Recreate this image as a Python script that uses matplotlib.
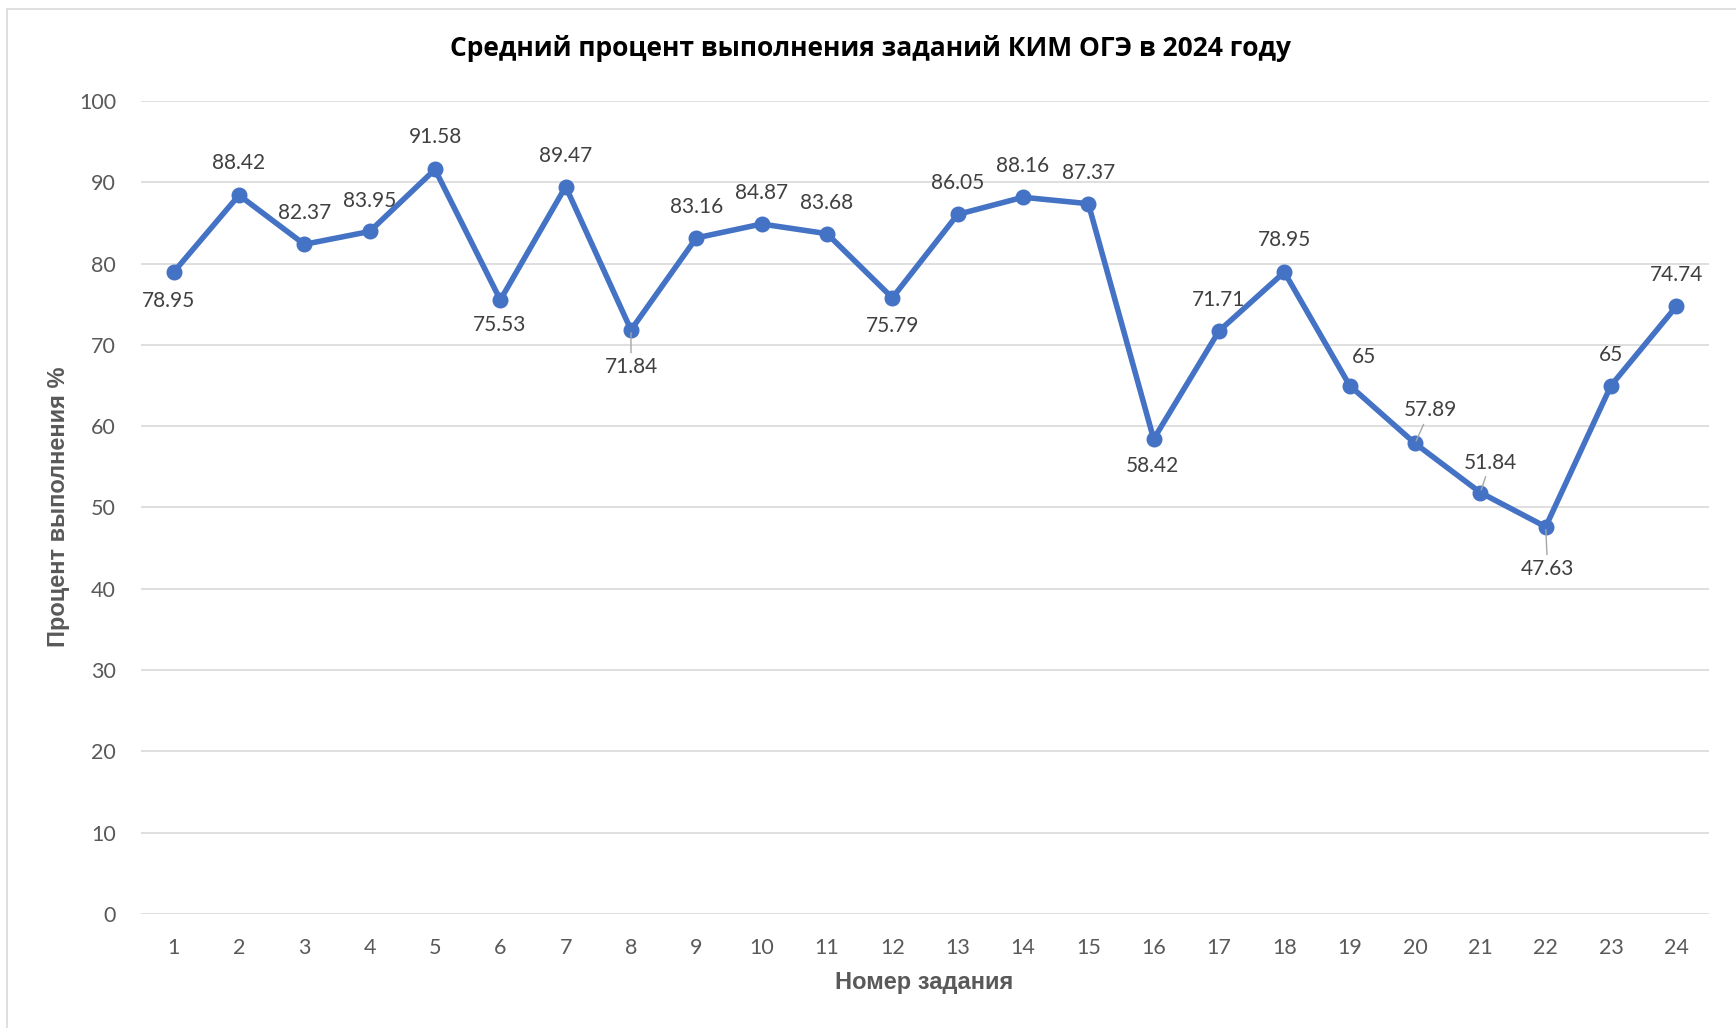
import matplotlib
matplotlib.use("Agg")
import matplotlib.pyplot as plt
from matplotlib.patches import Rectangle

# ---- data ----
tasks = list(range(1, 25))
values = [78.95, 88.42, 82.37, 83.95, 91.58, 75.53, 89.47, 71.84, 83.16, 84.87,
          83.68, 75.79, 86.05, 88.16, 87.37, 58.42, 71.71, 78.95, 65, 57.89,
          51.84, 47.63, 65, 74.74]
value_labels = ["78.95", "88.42", "82.37", "83.95", "91.58", "75.53", "89.47", "71.84",
                "83.16", "84.87", "83.68", "75.79", "86.05", "88.16", "87.37", "58.42",
                "71.71", "78.95", "65", "57.89", "51.84", "47.63", "65", "74.74"]
y_ticks = [0, 10, 20, 30, 40, 50, 60, 70, 80, 90, 100]
title = "Средний процент выполнения заданий КИМ ОГЭ в 2024 году"
xlabel = "Номер задания"
ylabel = "Процент выполнения %"

# label offsets in pixels (style)
label_offsets = [(-5, -29), (0, 32), (0, 31), (0, 30), (0, 32), (-1, -25), (0, 31), (0, -37),
                 (0, 31), (0, 31), (0, 31), (0, -28), (0, 31), (0, 31), (0, 31), (-1, -27),
                 (0, 31), (0, 32), (14, 29), (15, 33), (10, 30), (2, -42), (0, 31), (0, 31)]
leader = {8, 20, 21, 22}

W, H = 1736, 1028
fig = plt.figure(figsize=(W / 100, H / 100), dpi=100)
fig.patches.append(Rectangle((7 / W, -0.01), 1.02, 1 - 8.5 / H + 0.01, transform=fig.transFigure,
                             fill=False, edgecolor="#D9D9D9", linewidth=1.2))

ax = fig.add_axes([141 / W, 1 - 914 / H, (1709 - 141) / W, (914 - 101) / H])
ax.set_xlim(0.5, 24.5)
ax.set_ylim(0, 100)

ax.plot(tasks, values, color="#4472C4", linewidth=4.0, marker="o", markersize=10.5,
        solid_joinstyle="round", zorder=3, clip_on=False)

for t, v, lab, (dx, dy) in zip(tasks, values, value_labels, label_offsets):
    if t in leader:
        ax.annotate(lab, xy=(t, v), xytext=(dx, dy), textcoords="offset pixels",
                    ha="center", va="center", fontsize=15, color="#404040", family="Lato",
                    arrowprops=dict(arrowstyle="-", color="#A6A6A6", lw=1.0,
                                    shrinkA=1, shrinkB=2), zorder=4)
    else:
        ax.annotate(lab, xy=(t, v), xytext=(dx, dy), textcoords="offset pixels",
                    ha="center", va="center", fontsize=15, color="#404040", family="Lato",
                    zorder=4)

ax.set_yticks(y_ticks)
ax.set_xticks(tasks)
ax.set_xticklabels([str(t) for t in tasks])
ax.grid(axis="y", color="#D9D9D9", linewidth=1.2)
ax.set_axisbelow(True)
for s in ax.spines.values():
    s.set_visible(False)
ax.tick_params(axis="both", length=0, labelsize=15.5, labelcolor="#595959")
ax.tick_params(axis="y", pad=18)
ax.tick_params(axis="x", pad=17)
for lbl in ax.get_xticklabels() + ax.get_yticklabels():
    lbl.set_family("Lato")

fig.text(871 / W, 1 - 49 / H, title, ha="center", va="center", fontsize=19,
         fontweight="bold", family="Open Sans", color="#000000")
fig.text(924 / W, 1 - 983 / H, xlabel, ha="center", va="center", fontsize=17,
         fontweight="bold", family="Liberation Sans", color="#595959")
fig.text(59 / W, 1 - 507 / H, ylabel, ha="center", va="center", rotation=90, fontsize=17,
         fontweight="bold", family="Liberation Sans", color="#595959")

fig.savefig("out.png", dpi=100, facecolor="white")
